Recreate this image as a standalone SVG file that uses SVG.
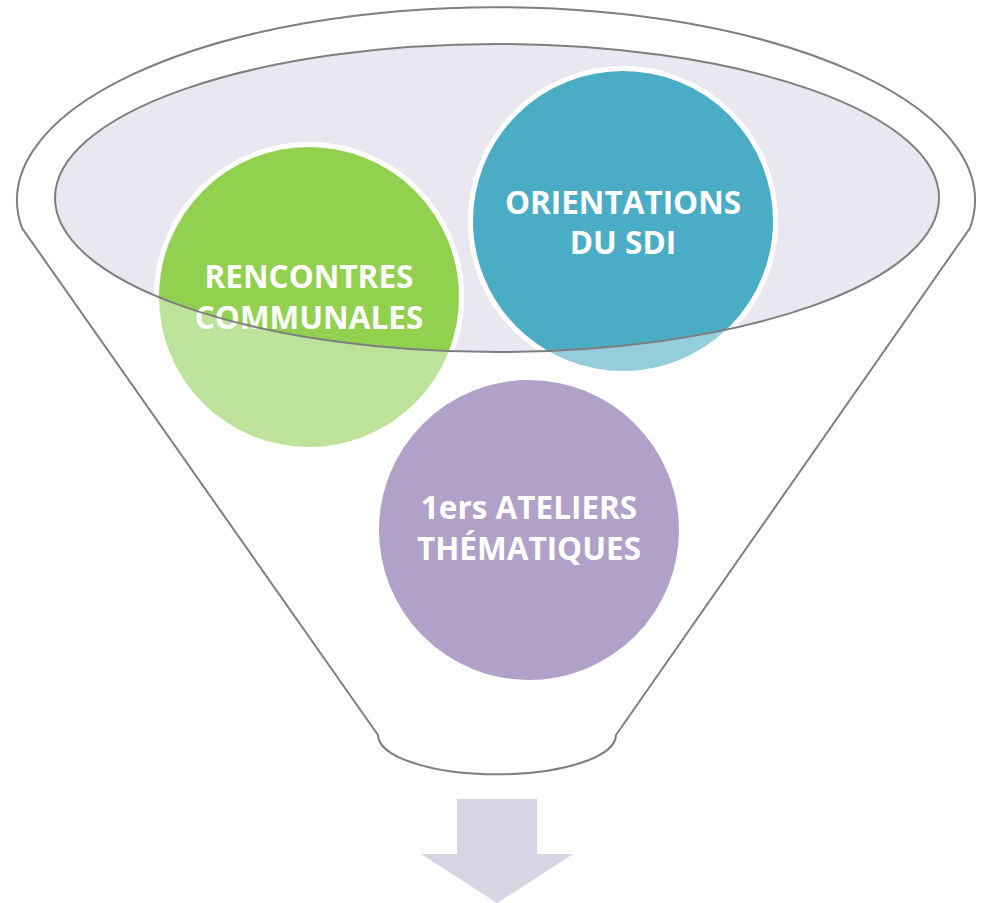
<svg xmlns="http://www.w3.org/2000/svg" width="984" height="903" viewBox="0 0 984 903">
<style>
.outline{fill:none;stroke:#7f7f7f;stroke-width:2}
.ring{stroke:#ffffff;stroke-width:5}
.lbl{font-family:"Open Sans","Liberation Sans",sans-serif;font-weight:700;font-size:31.5px;fill:#ffffff;text-anchor:middle}
</style>
<defs>
<clipPath id="inner"><ellipse cx="497" cy="198" rx="442" ry="154"/></clipPath>
</defs>
<rect width="984" height="903" fill="#ffffff"/>
<g id="funnel">
<path d="M22,228 A479,193 0 1 1 970,228 L616,735 A118,39 0 0 1 378,735 Z" fill="#ffffff" stroke="#7f7f7f" stroke-width="2"/>
<ellipse cx="497" cy="198" rx="442" ry="154" fill="#e9e7ef"/>
</g>
<g id="node-rencontres">
<circle cx="309" cy="297" r="152.5" fill="#bde29a" class="ring"/>
<circle cx="309" cy="297" r="152.5" fill="#92d050" class="ring" clip-path="url(#inner)"/>
</g>
<g id="node-orientations">
<circle cx="623" cy="221" r="152.5" fill="#94cddb" class="ring"/>
<circle cx="623" cy="221" r="152.5" fill="#4bacc6" class="ring" clip-path="url(#inner)"/>
</g>
<g id="node-ateliers">
<circle cx="529" cy="530" r="152.5" fill="#b1a0c7" class="ring"/>
</g>
<g id="labels">
<text class="lbl" x="309" y="288">RENCONTRES</text>
<text class="lbl" x="309" y="329">COMMUNALES</text>
<text class="lbl" x="623" y="214">ORIENTATIONS</text>
<text class="lbl" x="623" y="254">DU SDI</text>
<text class="lbl" x="529" y="519">1ers ATELIERS</text>
<text class="lbl" x="529" y="560">THÉMATIQUES</text>
</g>
<g id="funnel-rim">
<ellipse class="outline" cx="497" cy="198" rx="442" ry="154"/>
</g>
<g id="connectors">
<path d="M457,799 L537,799 L537,854 L573,854 L497,903 L421,854 L457,854 Z" fill="#d7d4e4"/>
</g>
</svg>
